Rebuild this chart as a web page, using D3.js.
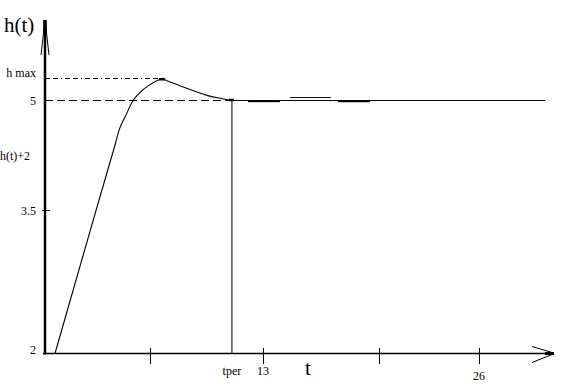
<!DOCTYPE html>
<html>
<head>
<meta charset="utf-8">
<script src="https://cdn.jsdelivr.net/npm/d3@7"></script>
<style>
  body { margin: 0; background: #fff; }
  svg { display: block; }
  text { font-family: "Liberation Serif", "DejaVu Serif", serif; fill: #000; }
</style>
</head>
<body>
<svg></svg>
<script>
// step response h(t)
var timeValues = [0.48, 2.95, 4.09, 4.39, 4.75, 5.18, 5.6, 6.08, 6.62, 6.92, 7.22, 8.0, 9.63, 10.41, 11.13];
var hValues    = [2.0,  3.5,  4.39, 4.63, 4.8,  5.0,  5.11, 5.2, 5.27, 5.29, 5.27, 5.2, 5.07, 5.03, 5.0];

var tEnd = 30;            // steady line runs out to here
var tPer = 11.13;         // settling time
var hSteady = 5;
var hMax = 5.3;

var xTicks = [6.2, 13, 20, 26];
var xTickLabels = ["", "13", "", "26"];
var yTicks = [3.5];
var yTickLabels = ["2", "3.5", "5", "h max"];
var yTickLabelValues = [2, 3.5, 5, 5.3];

// little wobbles on the steady line
var thickSegs = [[12.1, 14.02], [17.51, 19.44]];
var rippleSeg = [14.63, 17.09];
var rippleH = 5.04;

var svgWidth = 563, svgHeight = 385;
var svg = d3.select("svg")
    .attr("width", svgWidth)
    .attr("height", svgHeight);

var x = d3.scaleLinear().domain([0, 26]).range([47, 479]);
// the hand drawn axis isn't linear, so use a piecewise scale
var y = d3.scaleLinear().domain([2, 3.5, 5]).range([353.5, 210.5, 100.5]);

var x0 = 45, y0 = 353.5;

// guide lines
svg.append("line")
    .attr("x1", x0).attr("x2", 160)
    .attr("y1", y(hMax)).attr("y2", y(hMax))
    .attr("stroke", "#000").attr("stroke-width", 1)
    .attr("stroke-dasharray", "5,3,5,3,1,3");

svg.append("line")
    .attr("x1", x0).attr("x2", x(tPer))
    .attr("y1", y(hSteady)).attr("y2", y(hSteady))
    .attr("stroke", "#000").attr("stroke-width", 1)
    .attr("stroke-dasharray", "8,4");

// tper vertical
svg.append("line")
    .attr("x1", x(tPer)).attr("x2", x(tPer))
    .attr("y1", y(hSteady)).attr("y2", y0)
    .attr("stroke", "#000").attr("stroke-width", 1);

// response curve
var data = timeValues.map(function(t, i) { return {t: t, h: hValues[i]}; });
var line = d3.line()
    .x(function(d) { return x(d.t); })
    .y(function(d) { return y(d.h); })
    .curve(d3.curveCatmullRom.alpha(0.5));

svg.append("path")
    .datum(data)
    .attr("d", line)
    .attr("fill", "none")
    .attr("stroke", "#000")
    .attr("stroke-width", 1.1);

// peak blob
svg.append("line")
    .attr("x1", x(6.75)).attr("x2", x(7.1))
    .attr("y1", y(5.29)).attr("y2", y(5.29))
    .attr("stroke", "#000").attr("stroke-width", 2.5);

// steady line
svg.append("line")
    .attr("x1", x(tPer)).attr("x2", x(tEnd))
    .attr("y1", y(hSteady)).attr("y2", y(hSteady))
    .attr("stroke", "#000").attr("stroke-width", 1.2);

svg.append("line")
    .attr("x1", x(tPer) - 3).attr("x2", x(tPer) + 2)
    .attr("y1", y(hSteady) - 0.5).attr("y2", y(hSteady) - 0.5)
    .attr("stroke", "#000").attr("stroke-width", 2.5);

svg.selectAll(".thick")
    .data(thickSegs)
    .enter()
    .append("line")
    .attr("x1", function(d) { return x(d[0]); })
    .attr("x2", function(d) { return x(d[1]); })
    .attr("y1", y(hSteady) + 0.7).attr("y2", y(hSteady) + 0.7)
    .attr("stroke", "#000").attr("stroke-width", 2);

svg.append("line")
    .attr("x1", x(rippleSeg[0])).attr("x2", x(rippleSeg[1]))
    .attr("y1", y(rippleH)).attr("y2", y(rippleH))
    .attr("stroke", "#000").attr("stroke-width", 1);

// y axis
svg.append("line")
    .attr("x1", x0).attr("x2", x0)
    .attr("y1", y0 + 1).attr("y2", 20)
    .attr("stroke", "#000").attr("stroke-width", 2.5);
svg.append("path")
    .attr("d", "M41,55 L44.5,24 M49,55 L45.5,24 M45,20 L45,32")
    .attr("fill", "none").attr("stroke", "#000").attr("stroke-width", 1);
svg.append("line")
    .attr("x1", x0).attr("x2", x0)
    .attr("y1", 20).attr("y2", 33)
    .attr("stroke", "#000").attr("stroke-width", 3.5);

svg.selectAll(".ytick")
    .data(yTicks)
    .enter()
    .append("line")
    .attr("x1", 42).attr("x2", 50)
    .attr("y1", function(d) { return y(d); })
    .attr("y2", function(d) { return y(d); })
    .attr("stroke", "#000").attr("stroke-width", 1);

svg.selectAll(".ylab")
    .data(yTickLabelValues)
    .enter()
    .append("text")
    .attr("x", 36)
    .attr("y", function(d, i) { return i === 0 ? y(d) : y(d) + (i === 3 ? -2 : 4); })
    .attr("text-anchor", "end")
    .attr("font-size", 12)
    .text(function(d, i) { return yTickLabels[i]; });

svg.append("text")
    .attr("x", 0).attr("y", 160)
    .attr("font-size", 12)
    .text("h(t)+2");

svg.append("text")
    .attr("x", 4).attr("y", 32)
    .attr("font-size", 21)
    .text("h(t)");

// x axis
svg.append("line")
    .attr("x1", 43).attr("x2", 553)
    .attr("y1", y0).attr("y2", y0)
    .attr("stroke", "#000").attr("stroke-width", 1.3);
svg.append("path")
    .attr("d", "M532,346.5 L552,352.5 M532,362.5 L552,354.5")
    .attr("fill", "none").attr("stroke", "#000").attr("stroke-width", 1);
svg.append("line")
    .attr("x1", 545).attr("x2", 554)
    .attr("y1", y0).attr("y2", y0)
    .attr("stroke", "#000").attr("stroke-width", 3);

svg.selectAll(".xtick")
    .data(xTicks)
    .enter()
    .append("line")
    .attr("x1", function(d) { return Math.round(x(d)) + 0.5; })
    .attr("x2", function(d) { return Math.round(x(d)) + 0.5; })
    .attr("y1", 348).attr("y2", 364)
    .attr("stroke", "#000").attr("stroke-width", 1);

svg.selectAll(".xlab")
    .data(xTicks)
    .enter()
    .append("text")
    .attr("x", function(d) { return x(d); })
    .attr("y", function(d) { return d === 26 ? 380 : 375; })
    .attr("text-anchor", "middle")
    .attr("font-size", 12)
    .text(function(d, i) { return xTickLabels[i]; });

svg.append("text")
    .attr("x", x(tPer)).attr("y", 375)
    .attr("text-anchor", "middle")
    .attr("font-size", 12)
    .text("tper");

svg.append("text")
    .attr("x", 308).attr("y", 375)
    .attr("text-anchor", "middle")
    .attr("font-size", 21)
    .text("t");
</script>
</body>
</html>
